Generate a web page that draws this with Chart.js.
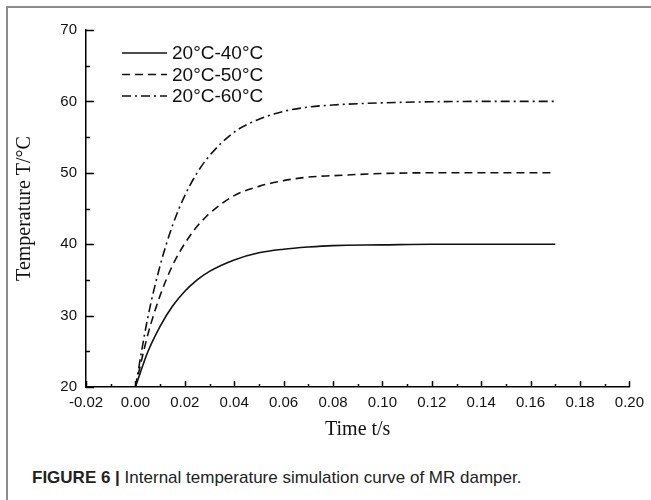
<!DOCTYPE html>
<html>
<head>
<meta charset="utf-8">
<script src="https://cdn.jsdelivr.net/npm/chart.js"></script>
<style>
body { margin: 0; background: #fff; }
#page { position: relative; width: 651px; height: 500px; overflow: hidden; background: #fff; }
#frame { position: absolute; left: 6px; top: 6px; right: 0; bottom: 0; border-top: 2px solid #8c8c8c; border-left: 2px solid #8c8c8c; }
#chart { position: absolute; left: 0; top: 0; }
#caption { position: absolute; left: 32px; top: 469px; font-family: "Liberation Sans", Arial, sans-serif; font-size: 17px; line-height: 17px; color: #222; white-space: nowrap; }
#caption b { font-weight: bold; }
</style>
</head>
<body>
<div id="page">
    <div id="frame"></div>
    <canvas id="chart" width="651" height="450"></canvas>
    <div id="caption"><b>FIGURE 6 |</b> Internal temperature simulation curve of MR damper.</div>
</div>
<script>
// Donnees
const times = [0, 0.005, 0.01, 0.015, 0.02, 0.025, 0.03, 0.04, 0.05, 0.06, 0.07, 0.08, 0.10, 0.12, 0.14, 0.17];
const temp40 = [20, 24.9, 28.5, 31.3, 33.4, 35.0, 36.2, 37.8, 38.8, 39.3, 39.6, 39.8, 39.9, 40.0, 40.0, 40.0];
const temp50 = [20, 27.3, 32.8, 37.0, 40.1, 42.5, 44.3, 46.8, 48.1, 48.9, 49.4, 49.6, 49.9, 50.0, 50.0, 50.0];
const temp60 = [20, 29.7, 37.0, 42.6, 46.8, 50.0, 52.4, 55.7, 57.5, 58.6, 59.2, 59.5, 59.8, 59.95, 60.0, 60.0];
const seriesLabels = ['20°C-40°C', '20°C-50°C', '20°C-60°C'];

// Axes
const xMin = -0.02, xMax = 0.20, xStep = 0.02, xMinorStep = 0.01;
const yMin = 20, yMax = 70, yStep = 10, yMinorStep = 5;

const lineStyles = [[], [8, 5], [9, 4, 2, 4]];
const sansFont = '"Liberation Sans", Arial, sans-serif';
const serifFont = '"Liberation Serif", "Times New Roman", serif';

function toPoints(values) {
    return values.map((v, i) => ({ x: times[i], y: v }));
}

// ticks vers l'interieur + legende dans la zone du graphique
const insidePlugin = {
    id: 'inside',
    afterDraw(chart) {
        const ctx = chart.ctx;
        const xs = chart.scales.x;
        const ys = chart.scales.y;
        const area = chart.chartArea;
        ctx.save();
        ctx.strokeStyle = '#000';
        ctx.lineWidth = 1.5;
        ctx.setLineDash([]);
        ctx.beginPath();
        const nY = Math.round((yMax - yMin) / yMinorStep);
        for (let i = 0; i <= nY; i++) {
            const v = yMin + i * yMinorStep;
            const py = Math.round(ys.getPixelForValue(v)) + 0.5;
            const len = (i % 2 === 0) ? 8 : 4;
            ctx.moveTo(area.left, py);
            ctx.lineTo(area.left + len, py);
        }
        const nX = Math.round((xMax - xMin) / xMinorStep);
        for (let i = 0; i <= nX; i++) {
            const v = xMin + i * xMinorStep;
            const px = Math.round(xs.getPixelForValue(v)) + 0.5;
            const len = (i % 2 === 0) ? 6 : 3;
            ctx.moveTo(px, area.bottom);
            ctx.lineTo(px, area.bottom - len);
        }
        ctx.stroke();

        // legende
        ctx.font = '19px ' + sansFont;
        ctx.textBaseline = 'middle';
        ctx.fillStyle = '#111';
        chart.data.datasets.forEach((ds, i) => {
            const y = area.top + 23 + i * 21.5;
            ctx.beginPath();
            ctx.setLineDash(ds.borderDash || []);
            ctx.lineWidth = ds.borderWidth;
            ctx.strokeStyle = ds.borderColor;
            ctx.moveTo(area.left + 36, y);
            ctx.lineTo(area.left + 81, y);
            ctx.stroke();
            ctx.fillText(ds.label, area.left + 86, y + 1);
        });
        ctx.restore();
    }
};

const datasets = [temp40, temp50, temp60].map((vals, i) => ({
    label: seriesLabels[i],
    data: toPoints(vals),
    borderColor: '#111',
    borderWidth: 1.6,
    borderDash: lineStyles[i],
    pointRadius: 0,
    cubicInterpolationMode: 'monotone',
    fill: false
}));

new Chart(document.getElementById('chart'), {
    type: 'line',
    data: { datasets: datasets },
    options: {
        responsive: false,
        animation: false,
        layout: { padding: { top: 30, right: 17, left: 0, bottom: 0 } },
        plugins: {
            legend: { display: false },
            tooltip: { enabled: false }
        },
        scales: {
            x: {
                type: 'linear',
                min: xMin,
                max: xMax,
                afterFit: s => { s.height = 63; },
                grid: { display: true, drawOnChartArea: false, drawTicks: false },
                border: { display: true, color: '#000', width: 1.5 },
                ticks: {
                    stepSize: xStep,
                    padding: 7,
                    color: '#111',
                    font: { family: sansFont, size: 15 },
                    maxRotation: 0,
                    autoSkip: false,
                    callback: v => v.toFixed(2)
                },
                title: {
                    display: true,
                    text: 'Time t/s',
                    color: '#111',
                    font: { family: serifFont, size: 20 },
                    padding: { top: 0, bottom: 8 }
                }
            },
            y: {
                min: yMin,
                max: yMax,
                afterFit: s => { s.width = 86; },
                grid: { display: true, drawOnChartArea: false, drawTicks: false },
                border: { display: true, color: '#000', width: 1.5 },
                ticks: {
                    stepSize: yStep,
                    padding: 9,
                    color: '#111',
                    font: { family: sansFont, size: 15 }
                },
                title: {
                    display: true,
                    text: 'Temperature T/°C',
                    color: '#111',
                    font: { family: serifFont, size: 20 },
                    padding: { top: 13, bottom: 0 }
                }
            }
        }
    },
    plugins: [insidePlugin]
});
</script>
</body>
</html>
